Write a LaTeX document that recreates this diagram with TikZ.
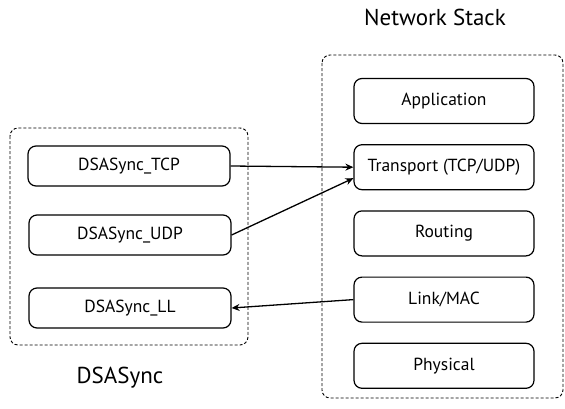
\documentclass[tikz,border=0pt]{standalone}
\usepackage{fontspec}
\setmainfont{PT Sans}
\usetikzlibrary{positioning,arrows.meta}

\begin{document}
\begin{tikzpicture}[x=1pt, y=-1pt,
  layer/.style={draw, line width=1.2pt, rounded corners=8pt,
    minimum width=180pt, minimum height=45pt, font=\fontsize{17.5}{20}\selectfont},
  sync/.style={layer, minimum width=202pt, minimum height=40pt},
  group/.style={draw, line width=0.9pt, densely dashed, rounded corners=8pt},
  title/.style={font=\fontsize{23}{26}\selectfont},
  link/.style={-{Stealth[length=8pt, width=7pt]}, line width=1.3pt}]
  \useasboundingbox (0, 0) rectangle (565, 408);

  % Dotted frames
  \draw [group] (10, 128) rectangle (248, 345);
  \draw [group] (322, 55) rectangle (563, 398);

  % Titles
  \node [title] (stacktitle) at (435, 17) {Network Stack};
  \node [title] (synctitle) at (120, 378) {DSASync};

  % Network stack
  \node [layer] (app) at (444, 101) {Application};
  \node [layer, below=20pt of app] (transport) {Transport (TCP/UDP)};
  \node [layer, below=20pt of transport] (routing) {Routing};
  \node [layer, below=20pt of routing] (mac) {Link/MAC};
  \node [layer, below=20pt of mac] (phy) {Physical};

  % DSASync modules
  \node [sync] (tcp) at (129, 166) {DSASync\_TCP};
  \node [sync] (udp) at (130, 235) {DSASync\_UDP};
  \node [sync] (ll) at (130, 308) {DSASync\_LL};

  % Connections
  \draw [link] (tcp.east) -- (transport.west);
  \draw [link] (udp.east) -- ([yshift=-11pt]transport.west);
  \draw [link] (mac.west) -- (ll.east);
\end{tikzpicture}
\end{document}
